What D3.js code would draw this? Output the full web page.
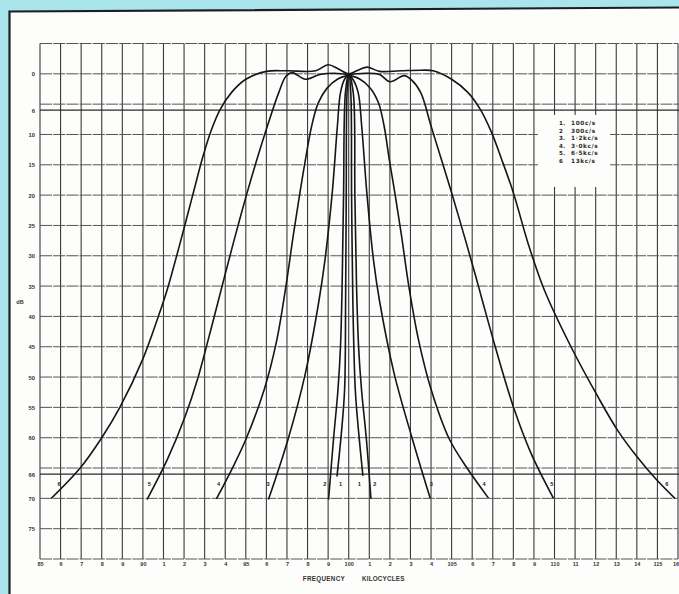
<!DOCTYPE html>
<html>
<head>
<meta charset="utf-8">
<script src="https://cdn.jsdelivr.net/npm/d3@7/dist/d3.min.js"></script>
<style>
html,body{margin:0;padding:0;background:#aae5eb;}
svg{display:block;}
</style>
</head>
<body>
<svg id="chart" width="679" height="594"></svg>
<script>
// ---------------- DATA ----------------
const freqTicks = d3.range(85, 117);
const freqTickLabels = ["85","6","7","8","9","90","1","2","3","4","95","6","7","8","9","100","1","2","3","4","105","6","7","8","9","110","11","12","13","14","115","16"];
const dbGridLines = [-5,0,5,6,10,15,20,25,30,35,40,45,50,55,60,65,66,70,75,80];
const dbTickValues = [0,6,10,15,20,25,30,35,40,45,50,55,60,66,70,75];
const dbTickLabels = ["0","6","10","15","20","25","30","35","40","45","50","55","60","66","70","75"];
const heavyLines = [6,66];

const curveNames = ["1","2","3","4","5","6"];
const legendNumbers = ["1.","2","3.","4.","5.","6"];
const legendLabels = ["100c/s","300c/s","1·2kc/s","3·0kc/s","6·5kc/s","13kc/s"];

// frequency (kc/s), attenuation (dB)
const curve1 = [[99.43,66.4],[99.65,59],[99.8,52.1],[99.85,37.2],[99.88,20],[99.92,3.1],[100,0],[100.1,3.1],[100.14,20],[100.2,37.2],[100.32,52.1],[100.48,59],[100.69,66.3]];
const curve2 = [[99.02,70.2],[99.26,60.3],[99.48,52],[99.6,45],[99.68,35],[99.75,20],[99.84,3.1],[100,0],[100.22,3.1],[100.3,20],[100.38,35],[100.48,45],[100.62,52],[100.86,60.3],[101.08,70.1]];
const curve3 = [[96.1,70.2],[97.05,60.3],[97.9,49.3],[98.55,37.5],[98.85,30.6],[99.2,19.6],[99.45,8.6],[99.6,3.1],[99.8,0.9],[100,0.2],[100.2,0.9],[100.46,3.1],[100.63,8.6],[100.88,19.6],[101.2,30.6],[101.5,37.5],[102.2,49.3],[103.1,60.3],[103.96,70]];
const curve4 = [[93.57,70.1],[94.35,65],[95.0,60.3],[95.9,52],[96.5,44],[96.95,35],[97.3,26.8],[97.63,19.6],[97.9,14.1],[98.2,8.6],[98.52,4.8],[98.94,2.4],[99.45,0.9],[100,0.3],[100.55,0.9],[101.06,2.4],[101.45,4.8],[101.72,8.6],[101.97,14.1],[102.24,19.6],[102.57,26.8],[102.92,35],[103.4,44],[104.0,52],[104.9,60.3],[105.75,65],[106.8,70]];
const curve5 = [[90.2,70.2],[91.2,63.5],[92.05,56.5],[92.65,50.4],[93.2,43.5],[93.68,37.2],[94.0,33],[94.48,26.8],[95.03,20],[95.55,14],[96.05,8.6],[96.6,3.1],[96.95,0.4],[97.25,-0.2],[97.9,0.9],[98.6,0.1],[99.3,-0.1],[100,0.1],[100.8,-0.1],[101.5,0.1],[102.0,1.3],[102.7,0.3],[103.05,1.0],[103.5,3.1],[104.0,8.6],[104.5,14.1],[105.0,19.6],[105.62,26.8],[106.14,33],[106.48,37.2],[107.12,45],[108.0,54.9],[108.85,62.5],[109.95,70]];
const curve6 = [[85.55,70],[86.95,65],[88.0,60],[88.88,55],[90.0,47],[90.75,40],[91.18,35.6],[91.8,28],[92.42,20],[92.92,13.6],[93.3,9.5],[93.75,5.9],[94.3,3.1],[95.0,0.9],[96.0,-0.4],[97.0,-0.5],[98.4,-0.5],[99.0,-1.5],[99.5,-0.8],[100,0],[100.45,-0.6],[100.9,-1.1],[101.5,-0.4],[102.5,-0.5],[103.5,-0.6],[104.1,-0.5],[105.0,0.9],[105.8,3.1],[106.4,5.9],[106.92,9.5],[107.42,14],[108.0,19.6],[108.72,28],[109.5,35.6],[110.8,45],[112.1,53.2],[113.05,58.7],[114.0,63.1],[114.95,66.9],[115.85,70]];
const curves = [curve1, curve2, curve3, curve4, curve5, curve6];

// ---------------- DRAW ----------------
const svg = d3.select("#chart");
const W = 679, H = 594;

// paper
svg.append("path")
  .attr("d", `M10,11.5 L${W},7.5 L${W},${H} L10,${H} Z`)
  .attr("fill", "#fdfdfc");
svg.append("path")
  .attr("d", `M9.5,${H} L9.5,11.5 L${W},7.5`)
  .attr("fill", "none").attr("stroke", "#1b1f22").attr("stroke-width", 2.2);

const x = d3.scaleLinear().domain([85, 116]).range([40, 678]);
const y = d3.scaleLinear().domain([-5, 80]).range([43.5, 559]);

const font = "'Liberation Sans', Arial, sans-serif";
const wideFont = "'DejaVu Sans', Verdana, sans-serif";

// grid – vertical
const grid = svg.append("g");
grid.selectAll("line.v").data(freqTicks).join("line")
  .attr("x1", d => x(d)).attr("x2", d => x(d))
  .attr("y1", y(-5)).attr("y2", y(80))
  .attr("stroke", "#3a3a3a").attr("stroke-width", 1.1);
// grid – horizontal
grid.selectAll("line.h").data(dbGridLines).join("line")
  .attr("x1", x(85))
  .attr("x2", d => heavyLines.includes(d) || heavyLines.includes(d + 1) ? W : x(116))
  .attr("y1", d => y(d)).attr("y2", d => y(d))
  .attr("stroke", d => heavyLines.includes(d) ? "#2a2a2a" : "#555")
  .attr("stroke-width", d => heavyLines.includes(d) ? 1.2 : 1)
  .attr("stroke-dasharray", d => heavyLines.includes(d) ? null : "12,1.2");

// legend (white patch over grid)
const lg = svg.append("g");
lg.append("rect").attr("x", 538).attr("y", 115).attr("width", 72).attr("height", 72).attr("fill", "#fdfdfc");
lg.selectAll("text.n").data(legendNumbers).join("text")
  .attr("x", 559).attr("y", (d, i) => 125 + i * 7.6)
  .attr("font-family", wideFont).attr("font-size", 5.6).attr("font-weight", "bold").attr("fill", "#2a2a2a")
  .text(d => d);
lg.selectAll("text.t").data(legendLabels).join("text")
  .attr("x", 571).attr("y", (d, i) => 125 + i * 7.6)
  .attr("font-family", wideFont).attr("font-size", 5.8).attr("font-weight", "bold").attr("fill", "#2a2a2a")
  .attr("letter-spacing", 0.6)
  .text(d => d);

// axes labels
const yAxis = d3.axisLeft(y).tickValues(dbTickValues).tickFormat((d, i) => dbTickLabels[i]).tickSize(0).tickPadding(0);
const ya = svg.append("g").attr("transform", "translate(35,0)").call(yAxis);
ya.select(".domain").remove();
ya.selectAll("text").attr("font-family", font).attr("font-size", 5.8).attr("font-weight", "bold").attr("fill", "#333").attr("dy", "0.35em");

const xAxis = d3.axisBottom(x).tickValues(freqTicks).tickFormat((d, i) => freqTickLabels[i]).tickSize(0).tickPadding(0);
const xa = svg.append("g").attr("transform", "translate(0,564)").call(xAxis);
xa.select(".domain").remove();
xa.selectAll("text").attr("font-family", font).attr("font-size", 5.5).attr("font-weight", "bold").attr("fill", "#333").attr("dy", "0.35em");
// last label sits on the paper edge: keep it fully inside
xa.selectAll(".tick").filter(d => d === 116).select("text").attr("text-anchor", "end").attr("x", 0.5);

svg.append("text").attr("x", 345).attr("y", 581).attr("text-anchor", "end")
  .attr("font-family", font).attr("font-size", 6.3).attr("font-weight", "bold").attr("fill", "#333")
  .attr("letter-spacing", 0.3).text("FREQUENCY");
svg.append("text").attr("x", 362).attr("y", 581).attr("text-anchor", "start")
  .attr("font-family", font).attr("font-size", 6.3).attr("font-weight", "bold").attr("fill", "#333")
  .attr("letter-spacing", 0.2).text("KILOCYCLES");
svg.append("text").attr("x", 20).attr("y", 304).attr("text-anchor", "middle")
  .attr("font-family", font).attr("font-size", 5.5).attr("font-weight", "bold").attr("fill", "#333").text("dB");

// curves
const line = d3.line().x(d => x(d[0])).y(d => y(d[1])).curve(d3.curveCatmullRom.alpha(0.5));
svg.append("g").selectAll("path").data(curves).join("path")
  .attr("d", line)
  .attr("fill", "none").attr("stroke", "#161616").attr("stroke-width", 1.6)
  .attr("stroke-linejoin", "round");

// curve end labels
const labelDb = 67.8;
function crossAt(pts, db, side) {
  const seq = side === "L" ? pts : pts.slice().reverse();
  for (let i = 0; i < seq.length - 1; i++) {
    const a = seq[i], b = seq[i + 1];
    if ((a[1] - db) * (b[1] - db) <= 0 && a[1] !== b[1]) {
      const t = (db - a[1]) / (b[1] - a[1]);
      return { f: a[0] + t * (b[0] - a[0]), hit: true };
    }
  }
  return { f: seq[0][0], hit: false };
}
const labelData = [];
curves.forEach((c, i) => {
  ["L", "R"].forEach(side => {
    const cr = crossAt(c, labelDb, side);
    const out = cr.hit ? 5 : -3.5;
    const px = x(cr.f) + (side === "L" ? -out : out);
    labelData.push({ name: curveNames[i], px: px, py: y(labelDb) + 1 });
  });
});
svg.append("g").selectAll("text").data(labelData).join("text")
  .attr("x", d => d.px).attr("y", d => d.py).attr("text-anchor", "middle")
  .attr("font-family", font).attr("font-size", 5.6).attr("font-weight", "bold").attr("fill", "#222")
  .text(d => d.name);
</script>
</body>
</html>
